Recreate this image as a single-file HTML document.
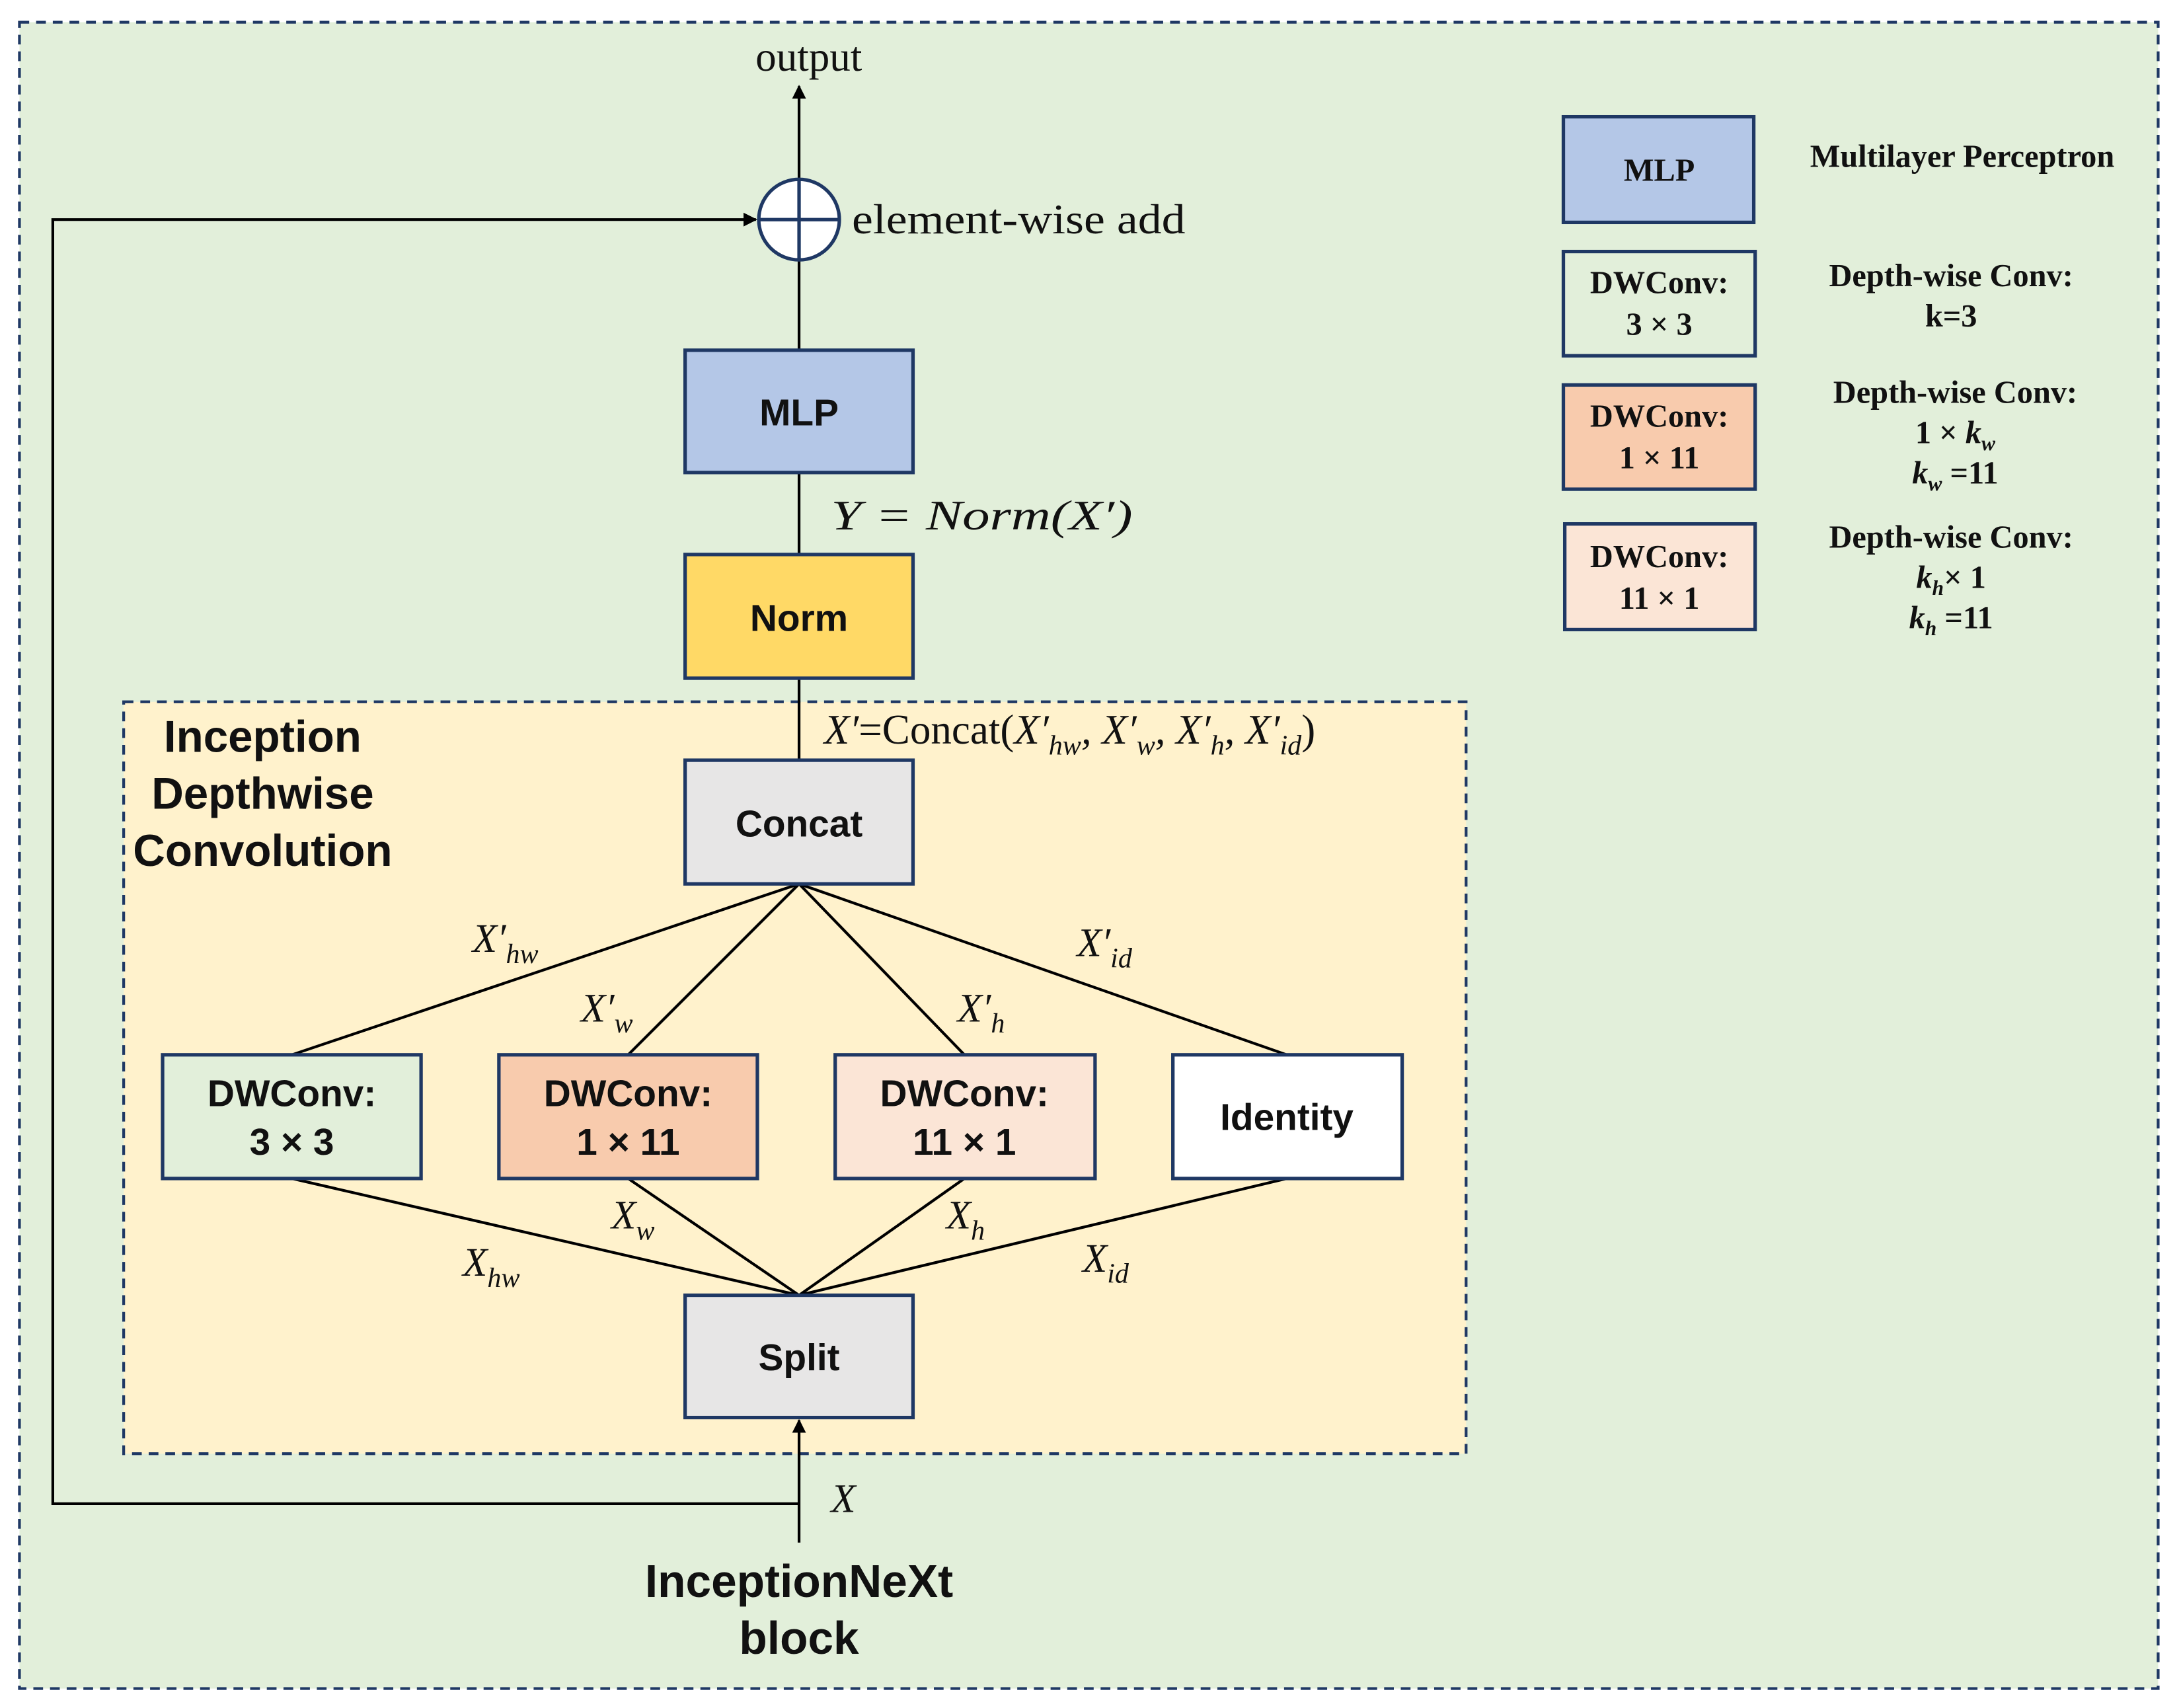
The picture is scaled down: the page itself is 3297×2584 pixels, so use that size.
<!DOCTYPE html>
<html><head><meta charset="utf-8"><style>
html,body{margin:0;padding:0;background:#fff;}
svg{display:block;}
.s{font-family:"Liberation Sans",sans-serif;font-weight:bold;}
.r{font-family:"Liberation Serif",serif;}
.m{font-family:"Liberation Serif",serif;font-style:italic;}
</style></head><body>
<svg width="3297" height="2584" viewBox="0 0 1568 1229" preserveAspectRatio="none" xmlns="http://www.w3.org/2000/svg">
<defs><marker id="a" markerWidth="10" markerHeight="10" refX="9" refY="5" orient="auto" markerUnits="userSpaceOnUse"><path d="M0,0 L10,5 L0,10 z" fill="#000"/></marker></defs>
<rect x="0" y="0" width="1568" height="1229" fill="#fff"/>
<rect x="14" y="16" width="1539" height="1199" fill="#e2efda" stroke="#1f3864" stroke-width="2" stroke-dasharray="7,5"/>
<rect x="89" y="505" width="966" height="541" fill="#fff2cc" stroke="#1f3864" stroke-width="2" stroke-dasharray="7,5"/>
<g stroke="#000" stroke-width="2" fill="none">
<line x1="575" y1="129" x2="575" y2="62" marker-end="url(#a)"/>
<line x1="575" y1="187" x2="575" y2="252"/>
<line x1="575" y1="340" x2="575" y2="399"/>
<line x1="575" y1="488" x2="575" y2="547"/>
<polyline points="575,1082 38,1082 38,158 544,158" marker-end="url(#a)"/>
<line x1="575" y1="1110" x2="575" y2="1022" marker-end="url(#a)"/>
<line x1="575" y1="636" x2="210" y2="759"/>
<line x1="575" y1="636" x2="452" y2="759"/>
<line x1="575" y1="636" x2="694" y2="759"/>
<line x1="575" y1="636" x2="926" y2="759"/>
<line x1="210" y1="848" x2="575" y2="932"/>
<line x1="452" y1="848" x2="575" y2="932"/>
<line x1="694" y1="848" x2="575" y2="932"/>
<line x1="926" y1="848" x2="575" y2="932"/>
</g>
<circle cx="575" cy="158" r="29" fill="#fff" stroke="#1f3864" stroke-width="2.5"/>
<line x1="546" y1="158" x2="604" y2="158" stroke="#1f3864" stroke-width="2.5"/>
<line x1="575" y1="129" x2="575" y2="187" stroke="#1f3864" stroke-width="2.5"/>
<g stroke="#1f3864" stroke-width="2.5">
<rect x="493" y="252" width="164" height="88" fill="#b4c7e7"/>
<rect x="493" y="399" width="164" height="89" fill="#ffd966"/>
<rect x="493" y="547" width="164" height="89" fill="#e7e6e6"/>
<rect x="117" y="759" width="186" height="89" fill="#e2efda"/>
<rect x="359" y="759" width="186" height="89" fill="#f8cbad"/>
<rect x="601" y="759" width="187" height="89" fill="#fbe5d6"/>
<rect x="844" y="759" width="165" height="89" fill="#fff"/>
<rect x="493" y="932" width="164" height="88" fill="#e7e6e6"/>
<rect x="1125" y="84" width="137" height="76" fill="#b4c7e7"/>
<rect x="1125" y="181" width="138" height="75" fill="#e2efda"/>
<rect x="1125" y="277" width="138" height="75" fill="#f8cbad"/>
<rect x="1126" y="377" width="137" height="76" fill="#fbe5d6"/>
</g>
<g class="s" font-size="27" text-anchor="middle" fill="#111">
<text x="575" y="306">MLP</text>
<text x="575" y="454">Norm</text>
<text x="575" y="602">Concat</text>
<text x="210" y="796">DWConv:</text><text x="210" y="831">3 × 3</text>
<text x="452" y="796">DWConv:</text><text x="452" y="831">1 × 11</text>
<text x="694" y="796">DWConv:</text><text x="694" y="831">11 × 1</text>
<text x="926" y="813">Identity</text>
<text x="575" y="986">Split</text>
<text x="575" y="1149" font-size="33">InceptionNeXt</text>
<text x="575" y="1190" font-size="33">block</text>
</g>
<g class="s" font-size="32" text-anchor="middle" fill="#111">
<text x="189" y="541">Inception</text>
<text x="189" y="582">Depthwise</text>
<text x="189" y="623">Convolution</text>
</g>
<g class="r" font-size="30" fill="#111">
<text x="582" y="51" text-anchor="middle">output</text>
<text x="613" y="168" textLength="240" lengthAdjust="spacingAndGlyphs">element-wise add</text>
</g>
<g class="r" font-weight="bold" font-size="23" text-anchor="middle" fill="#111">
<text x="1194" y="130">MLP</text>
<text x="1194" y="211">DWConv:</text><text x="1194" y="241">3 × 3</text>
<text x="1194" y="307">DWConv:</text><text x="1194" y="337">1 × 11</text>
<text x="1194" y="408">DWConv:</text><text x="1194" y="438">11 × 1</text>
<text x="1412" y="120">Multilayer Perceptron</text>
<text x="1404" y="206">Depth-wise Conv:</text><text x="1404" y="235">k=3</text>
<text x="1407" y="290">Depth-wise Conv:</text>
<text x="1407" y="319">1 × <tspan font-style="italic">k<tspan font-size="15" dy="5">w</tspan></tspan></text>
<text x="1407" y="348"><tspan font-style="italic">k<tspan font-size="15" dy="5">w</tspan></tspan><tspan dy="-5"> =11</tspan></text>
<text x="1404" y="394">Depth-wise Conv:</text>
<text x="1404" y="423"><tspan font-style="italic">k<tspan font-size="15" dy="5">h</tspan></tspan><tspan dy="-5">× 1</tspan></text>
<text x="1404" y="452"><tspan font-style="italic">k<tspan font-size="15" dy="5">h</tspan></tspan><tspan dy="-5"> =11</tspan></text>
</g>
<g class="m" font-size="30" fill="#111">
<text x="598" y="381" textLength="217" lengthAdjust="spacingAndGlyphs">Y = Norm(X′)</text>
<text x="593" y="535" font-size="30">X′<tspan font-style="normal">=Concat(</tspan>X′<tspan font-size="20" dy="8">hw</tspan><tspan dy="-8">, X′</tspan><tspan font-size="20" dy="8">w</tspan><tspan dy="-8">, X′</tspan><tspan font-size="20" dy="8">h</tspan><tspan dy="-8">, X′</tspan><tspan font-size="20" dy="8">id</tspan><tspan dy="-8" font-style="normal">)</tspan></text>
<text x="340" y="685" font-size="29">X′<tspan font-size="20" dy="8">hw</tspan></text>
<text x="418" y="735" font-size="29">X′<tspan font-size="20" dy="8">w</tspan></text>
<text x="689" y="735" font-size="29">X′<tspan font-size="20" dy="8">h</tspan></text>
<text x="775" y="688" font-size="29">X′<tspan font-size="20" dy="8">id</tspan></text>
<text x="333" y="918" font-size="29">X<tspan font-size="20" dy="8">hw</tspan></text>
<text x="440" y="884" font-size="29">X<tspan font-size="20" dy="8">w</tspan></text>
<text x="681" y="884" font-size="29">X<tspan font-size="20" dy="8">h</tspan></text>
<text x="779" y="915" font-size="29">X<tspan font-size="20" dy="8">id</tspan></text>
<text x="598" y="1088" font-size="29">X</text>
</g>
</svg>
</body></html>
